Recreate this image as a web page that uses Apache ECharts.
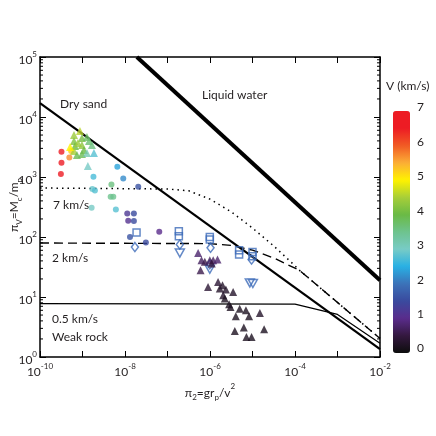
<!DOCTYPE html>
<html>
<head>
<meta charset="utf-8">
<script src="https://cdn.jsdelivr.net/npm/echarts@6/dist/echarts.min.js"></script>
<style>
html, body { margin: 0; padding: 0; background: #fff; }
#chart { width: 436px; height: 436px; }
</style>
</head>
<body>
<div id="chart"></div>
<script>
/*
 点数据 [pi2, piV, V(km/s)]
 */
var circles = [
	[3.2e-10, 2630, 6.5], [3.2e-10, 1730, 6.5], [3.1e-10, 1120, 6.6],
	[4.9e-10, 2120, 5.7], [5.4e-10, 2700, 5.3],
	[1.81e-9, 1010, 2.7], [1.71e-9, 628, 2.9], [1.96e-9, 593, 2.8], [1.64e-9, 306, 3.0],
	[6.6e-9, 1480, 2.4], [9.1e-9, 947, 2.2], [4.8e-9, 752, 3.6],
	[4.6e-9, 467, 3.5], [5.3e-9, 467, 3.5], [6.1e-9, 288, 2.8],
	[2.05e-8, 686, 1.6], [1.13e-8, 247, 1.2], [1.62e-8, 247, 1.5],
	[1.19e-8, 186, 1.1], [1.62e-8, 184, 1.5], [6.4e-8, 122, 1.0],
	[1.31e-8, 100, 1.6], [3.1e-8, 81, 1.5]
];
var triangles = [
	[8.7e-10, 5830, 4.6], [6.3e-10, 5000, 4.4], [6.3e-10, 3970, 4.2], [6.65e-10, 3280, 4.0],
	[6.3e-10, 2700, 4.5], [7.4e-10, 2320, 3.9], [9.7e-10, 4450, 4.1], [9.7e-10, 3400, 4.3],
	[1.08e-9, 2810, 4.0], [1.27e-9, 4630, 3.8], [1.42e-9, 3970, 3.7], [1.67e-9, 3400, 3.6],
	[9.7e-10, 2410, 3.9], [1.27e-9, 2500, 3.2], [1.86e-9, 2500, 2.8], [1.34e-9, 1520, 3.0],
	[7.8e-10, 3670, 4.4], [5.1e-10, 3150, 5.0],
	[5.26e-7, 54, 0.8], [6.32e-7, 41, 0.7], [7.56e-7, 38.5, 0.6], [9.9e-7, 41, 0.7],
	[1.19e-6, 41, 0.7], [1.5e-6, 42, 0.8], [6.0e-7, 28, 0.6], [1.1e-6, 36, 0.5],
	[9.0e-7, 14.7, 0.4], [1.55e-6, 17.8, 0.4], [1.7e-6, 13.8, 0.3], [1.97e-6, 15.7, 0.3],
	[2.36e-6, 13.3, 0.3], [3.5e-6, 12.1, 0.3], [2.04e-6, 10.7, 0.3], [2.23e-6, 9.4, 0.2],
	[2.82e-6, 7.6, 0.2], [3.04e-6, 6.8, 0.2], [5.0e-6, 6.4, 0.2], [7.0e-6, 6.0, 0.2],
	[4.05e-6, 4.8, 0.2], [8.3e-6, 4.8, 0.2], [1.49e-5, 5.4, 0.3], [3.84e-6, 2.7, 0.2],
	[6.24e-6, 3.1, 0.2], [7.2e-6, 2.16, 0.2], [9.5e-6, 2.16, 0.2], [1.88e-5, 2.9, 0.2]
];
var squares = [
	[1.87e-8, 119], [1.85e-7, 125], [1.85e-7, 103], [9.9e-7, 100], [9.9e-7, 91],
	[4.84e-6, 60], [4.84e-6, 51], [1.0e-5, 56.5], [1.0e-5, 48]
];
var diamonds = [
	[1.71e-8, 68], [1.95e-7, 75], [1.03e-6, 66], [9.5e-6, 42], [9.9e-7, 35]
];
var invTriangles = [
	[1.95e-7, 54], [9.9e-7, 29], [8.65e-6, 17.2], [1.02e-5, 16.8]
];

/*
 理论曲线 [pi2, piV]
 */
var waterLine = [[1.9e-8, 1e5], [1e-2, 19]];
var sandLine = [[1e-10, 17000], [1e-2, 1.35]];
var rock7Line = [[1e-10, 655], [1e-7, 631], [3.16e-7, 589], [1e-6, 427], [3.16e-6, 263],
	[1e-5, 141], [3.16e-5, 70.8], [1e-4, 33.1], [1.3e-4, 27.5], [1e-2, 2.04]];
var rock2Line = [[1e-10, 79.4], [1e-6, 77.6], [3.16e-6, 72.4], [1e-5, 60.3],
	[3.16e-5, 44.7], [1e-4, 30.2], [1.3e-4, 27.5], [1e-2, 2.04]];
var rock05Line = [[1e-10, 7.76], [1e-4, 7.59], [1e-3, 5.13], [1e-2, 1.70]];

var xRange = [1e-10, 1e-2];
var yRange = [1, 1e5];
var yDecades = [1, 10, 100, 1000, 10000];
var minorSteps = [2, 3, 4, 5, 6, 7, 8, 9];
var vRange = [0, 7];
var vColors = ['#0d0d0d', '#34183f', '#5a2c8c', '#3a4a9e', '#3c72b8', '#28b0e4', '#78cbc6',
	'#6ec38e', '#6aba45', '#a7ce39', '#fff200', '#fbae36', '#f15a24', '#ed1c24', '#ed1c24'];

var FONT = 'Lato, "Liberation Sans", sans-serif';
var TXT = '#231f20';
var HOLLOW = '#3d6cb9';

var yMinor = [];
for(var i=0; i<yDecades.length; i++) {
	for(var j=0; j<minorSteps.length; j++) {
		yMinor.push([xRange[0], yDecades[i] * minorSteps[j]]);
	}
}

function expOf(v) {
	return Math.round(Math.log(v) / Math.LN10);
}

var powRich = {
	b: { fontSize: 12, lineHeight: 14, padding: [4, 0, 0, 0], verticalAlign: 'top', color: TXT, fontFamily: FONT },
	s: { fontSize: 8, lineHeight: 10, verticalAlign: 'top', color: TXT, fontFamily: FONT }
};
var nameRich = {
	b: { fontSize: 12, lineHeight: 14, padding: [4, 0, 0, 0], verticalAlign: 'top', fill: TXT, color: TXT, fontFamily: FONT },
	sub: { fontSize: 8, lineHeight: 10, padding: [11, 0, 0, 0], verticalAlign: 'top', fill: TXT, color: TXT, fontFamily: FONT },
	sup: { fontSize: 8, lineHeight: 10, verticalAlign: 'top', fill: TXT, color: TXT, fontFamily: FONT }
};

function logAxis(pos, range, split, showLabel, formatter) {
	return {
		type: 'log',
		logBase: 10,
		position: pos,
		min: range[0],
		max: range[1],
		splitNumber: split,
		axisLine: { onZero: false, lineStyle: { color: '#000', width: 1.5 } },
		axisTick: { inside: true, length: 6, lineStyle: { color: '#000', width: 1 } },
		splitLine: { show: false },
		axisLabel: {
			show: showLabel,
			showMinLabel: true,
			showMaxLabel: true,
			margin: pos == 'left' ? 3 : 5,
			formatter: formatter,
			rich: powRich
		}
	};
}

function minorTickItem(params, api) {
	var c = params.coordSys;
	var y = api.coord([api.value(0), api.value(1)])[1];
	var st = { stroke: '#000', lineWidth: 1 };
	return {
		type: 'group',
		children: [
			{ type: 'line', shape: { x1: c.x, y1: y, x2: c.x + 3, y2: y }, style: st },
			{ type: 'line', shape: { x1: c.x + c.width - 3, y1: y, x2: c.x + c.width, y2: y }, style: st }
		]
	};
}

function lineSeries(data, width, type) {
	return {
		type: 'line',
		data: data,
		showSymbol: false,
		silent: true,
		lineStyle: { color: '#000', width: width, type: type },
		z: 2
	};
}

function hollowSeries(data, symbol, size, rotate) {
	return {
		type: 'scatter',
		data: data,
		symbol: symbol,
		symbolSize: size,
		symbolRotate: rotate,
		itemStyle: { color: 'rgba(255,255,255,0)', borderColor: HOLLOW, borderWidth: 1.5 },
		z: 3
	};
}

function plainText(str, x, y, size) {
	return {
		type: 'text',
		x: x,
		y: y,
		style: {
			text: str,
			font: (size || 12) + 'px ' + FONT,
			fill: TXT,
			textVerticalAlign: 'middle',
			verticalAlign: 'middle'
		}
	};
}

var chart = echarts.init(document.getElementById('chart'));
var xFmt = function(v) {
	var e = expOf(v);
	if(e % 2 != 0) return '';
	return '{b|10}{s|' + e + '}';
};
var yFmt = function(v) {
	return '{b|10}{s|' + expOf(v) + '}';
};

var xMain = logAxis('bottom', xRange, 8, true, xFmt);
xMain.name = '{b|π}{sub|2}{b|=gr}{sub|p}{b|/v}{sup|2}';
xMain.nameLocation = 'middle';
xMain.nameGap = 16;
xMain.nameTextStyle = { rich: nameRich };
var yMain = logAxis('left', yRange, 5, true, yFmt);

var xTop = logAxis('top', xRange, 8, false, xFmt);
var yRight = logAxis('right', yRange, 5, false, yFmt);

// y轴标题单独旋转绘制
var yTitle = {
	type: 'text',
	x: 11,
	y: 205,
	rotation: Math.PI / 2,
	style: {
		text: '{b|π}{sub|V}{b|=M}{sub|c}{b|/m}{sub|p}',
		rich: nameRich,
		fill: TXT,
		align: 'center',
		verticalAlign: 'middle',
		textAlign: 'center',
		textVerticalAlign: 'middle'
	}
};

chart.setOption({
	animation: false,
	textStyle: { fontFamily: FONT },
	grid: [
		{ left: 40, right: 56, top: 57, bottom: 79, containLabel: false, outerBoundsMode: 'none' },
		{ left: 393, top: 107.5, width: 17, height: 241, containLabel: false, outerBoundsMode: 'none' }
	],
	xAxis: [xMain, xTop, { gridIndex: 1, type: 'value', show: false, min: 0, max: 1 }],
	yAxis: [yMain, yRight, {
		gridIndex: 1,
		type: 'value',
		position: 'right',
		min: vRange[0],
		max: vRange[1],
		interval: 1,
		axisLine: { show: false },
		axisTick: { show: false },
		splitLine: { show: false },
		axisLabel: { margin: 7, fontSize: 12, color: TXT, fontFamily: FONT }
	}],
	visualMap: {
		type: 'continuous',
		min: vRange[0],
		max: vRange[1],
		dimension: 2,
		seriesIndex: [6, 7],
		left: 393,
		top: 111,
		itemWidth: 17,
		itemHeight: 242,
		padding: 0,
		calculable: false,
		hoverLink: false,
		text: null,
		inRange: { color: vColors }
	},
	graphic: [
		yTitle,
		plainText('Dry sand', 60, 104),
		plainText('Liquid water', 202, 95),
		plainText('7 km/s', 53, 205),
		plainText('2 km/s', 52, 258),
		plainText('0.5 km/s', 52, 319),
		plainText('Weak rock', 52, 337),
		plainText('V (km/s)', 386, 86)
	],
	series: [
		{ type: 'custom', data: yMinor, renderItem: minorTickItem, silent: true, z: 1 },
		lineSeries(waterLine, 4, 'solid'),
		lineSeries(sandLine, 2.2, 'solid'),
		lineSeries(rock7Line, 1.5, [1.5, 4]),
		lineSeries(rock2Line, 1.4, [9, 5]),
		lineSeries(rock05Line, 1.2, 'solid'),
		{ type: 'scatter', data: circles, symbol: 'circle', symbolSize: 6, z: 4 },
		{ type: 'scatter', data: triangles, symbol: 'triangle', symbolSize: 8, z: 4 },
		hollowSeries(squares, 'rect', 7, 0),
		hollowSeries(diamonds, 'diamond', [7, 9], 0),
		hollowSeries(invTriangles, 'triangle', [9, 8], 180)
	]
});
</script>
</body>
</html>
